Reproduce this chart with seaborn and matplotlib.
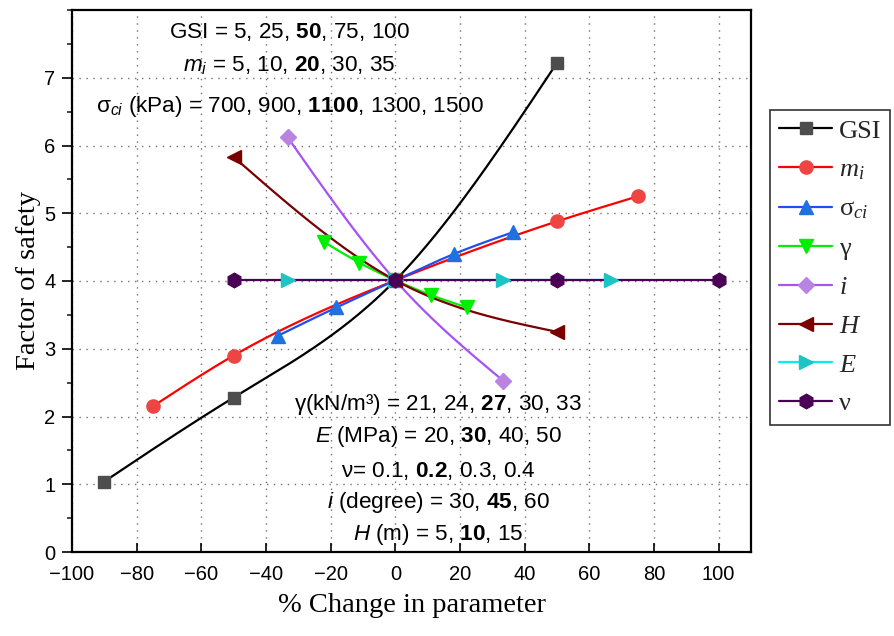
import numpy as np
import pandas as pd
import matplotlib
matplotlib.use("Agg")
import matplotlib.pyplot as plt
import seaborn as sns
from matplotlib.lines import Line2D
from matplotlib.ticker import MultipleLocator

# ---------------- data (percent change vs factor of safety) ----------------
pct_gsi = [-90, -50, 0, 50]
fos_gsi = [1.04, 2.28, 4.01, 7.22]
pct_mi = [-75, -50, 0, 50, 75]
fos_mi = [2.15, 2.90, 4.01, 4.88, 5.25]
pct_sci = [-36.4, -18.2, 0, 18.2, 36.4]
fos_sci = [3.19, 3.61, 4.01, 4.40, 4.72]
pct_gamma = [-22.2, -11.1, 0, 11.1, 22.2]
fos_gamma = [4.58, 4.27, 4.01, 3.79, 3.61]
pct_i = [-33.3, 0, 33.3]
fos_i = [6.12, 4.01, 2.53]
pct_H = [-50, 0, 50]
fos_H = [5.83, 4.01, 3.25]
pct_E = [-33.3, 0, 33.3, 66.7]
fos_E = [4.01, 4.01, 4.01, 4.01]
pct_nu = [-50, 0, 50, 100]
fos_nu = [4.01, 4.01, 4.01, 4.01]

legend_labels = ["GSI", r"$m_i$", r"σ${}_{ci}$", "γ", r"$i$", r"$H$", r"$E$", "ν"]
x_ticks = [-100, -80, -60, -40, -20, 0, 20, 40, 60, 80, 100]
y_ticks = [0, 1, 2, 3, 4, 5, 6, 7]

# ---------------- style ----------------
sns.set_theme(style="ticks")
plt.rcParams["font.family"] = ["Liberation Sans", "DejaVu Sans"]
plt.rcParams["mathtext.fontset"] = "custom"
plt.rcParams["mathtext.rm"] = "Liberation Serif"
plt.rcParams["mathtext.it"] = "Liberation Serif:italic"
plt.rcParams["mathtext.bf"] = "Liberation Sans:bold"
plt.rcParams["mathtext.cal"] = "Liberation Sans:italic"
plt.rcParams["mathtext.sf"] = "Liberation Sans"


def natural_spline(x, y, n=200):
    x = np.asarray(x, float)
    y = np.asarray(y, float)
    k = len(x)
    if k < 3:
        return x, y
    h = np.diff(x)
    A = np.zeros((k, k))
    b = np.zeros(k)
    A[0, 0] = 1
    A[-1, -1] = 1
    for j in range(1, k - 1):
        A[j, j - 1] = h[j - 1]
        A[j, j] = 2 * (h[j - 1] + h[j])
        A[j, j + 1] = h[j]
        b[j] = 3 * ((y[j + 1] - y[j]) / h[j] - (y[j] - y[j - 1]) / h[j - 1])
    c = np.linalg.solve(A, b)
    xs = np.linspace(x[0], x[-1], n)
    idx = np.clip(np.searchsorted(x, xs) - 1, 0, k - 2)
    dx = xs - x[idx]
    bc = (y[1:] - y[:-1]) / h - h * (2 * c[:-1] + c[1:]) / 3
    d = (c[1:] - c[:-1]) / (3 * h)
    ys = y[idx] + bc[idx] * dx + c[idx] * dx ** 2 + d[idx] * dx ** 3
    return xs, ys


series = [
    (pct_gsi, fos_gsi, "#000000", "#4d4d4d", "s", 8.5),
    (pct_mi, fos_mi, "#ff0000", "#ee4444", "o", 9.5),
    (pct_sci, fos_sci, "#1f4ff0", "#1f70e0", "^", 10.5),
    (pct_gamma, fos_gamma, "#00ee00", "#00ee00", "v", 10.5),
    (pct_i, fos_i, "#a652f5", "#b884e0", "D", 8.5),
    (pct_H, fos_H, "#7a0000", "#7a0000", "<", 10.5),
    (pct_E, fos_E, "#00f0f0", "#1cc4c4", ">", 10.5),
    (pct_nu, fos_nu, "#4a0055", "#4a0055", "h", 10.5),
]

fig = plt.figure(figsize=(8.94, 6.36), dpi=100)
ax = fig.add_axes([72 / 894, 1 - 552 / 636, (751 - 72) / 894, (552 - 10) / 636])

handles = []
for (xv, yv, lc, mc, mk, ms), lab in zip(series, legend_labels):
    xs, ys = natural_spline(xv, yv)
    sns.lineplot(x=xs, y=ys, ax=ax, color=lc, linewidth=1.6, sort=False,
                 estimator=None, legend=False)
    pts = pd.DataFrame({"pct": xv, "fos": yv})
    ax.plot(pts["pct"], pts["fos"], linestyle="none", marker=mk, markersize=ms,
            markerfacecolor=mc, markeredgecolor=mc, zorder=3)
    handles.append(Line2D([0], [0], color=lc, linewidth=1.6, marker=mk,
                          markersize=ms, markerfacecolor=mc, markeredgecolor=mc,
                          label=lab))

ax.set_xlim(-100, 110)
ax.set_ylim(0, 8)
ax.set_xticks(x_ticks)
ax.set_xticklabels([str(t) if t >= 0 else "\u2212" + str(-t) for t in x_ticks])
ax.set_yticks(y_ticks)
ax.yaxis.set_minor_locator(MultipleLocator(0.5))
ax.tick_params(axis="x", direction="in", length=6.5, width=1.2, pad=9.5,
               labelsize=14.5, colors="black")
ax.tick_params(axis="y", which="major", direction="out", length=7, width=1.2,
               pad=5, labelsize=14.5, colors="black")
ax.tick_params(axis="y", which="minor", direction="out", length=3.5, width=1.2)
ax.grid(True, which="major", linestyle=(0, (1, 4)), color="#707070",
        linewidth=1.0)
for sp in ax.spines.values():
    sp.set_visible(True)
    sp.set_linewidth(1.6)
    sp.set_color("black")

ax.set_xlabel("% Change in parameter", fontfamily="Liberation Serif",
              fontsize=20.5, labelpad=6, color="black")
ax.set_ylabel("Factor of safety", fontfamily="Liberation Serif",
              fontsize=20.5, labelpad=2, color="black")

# ---------------- annotations ----------------
top_texts = [
    (7.585, r"GSI = 5, 25, $\mathbf{50}$, 75, 100"),
    (7.10, r"$\mathcal{m}_{\mathcal{i}}$ = 5, 10, $\mathbf{20}$, 30, 35"),
    (6.49, r"σ${}_{\mathcal{ci}}$ (kPa) = 700, 900, $\mathbf{1100}$, 1300, 1500"),
]
for yv, s in top_texts:
    ax.text(-32.7, yv, s, ha="center", va="baseline", fontsize=16.2,
            color="black")

bottom_texts = [
    (2.09, r"γ(kN/m³) = 21, 24, $\mathbf{27}$, 30, 33"),
    (1.625, r"$\mathcal{E}$ (MPa) = 20, $\mathbf{30}$, 40, 50"),
    (1.11, r"ν= 0.1, $\mathbf{0.2}$, 0.3, 0.4"),
    (0.644, r"$\mathcal{i}$ (degree) = 30, $\mathbf{45}$, 60"),
    (0.177, r"$\mathcal{H}$ (m) = 5, $\mathbf{10}$, 15"),
]
for yv, s in bottom_texts:
    ax.text(13.3, yv, s, ha="center", va="baseline", fontsize=16.2,
            color="black")

leg = fig.legend(handles=handles, loc="upper left",
                 bbox_to_anchor=(770 / 894, 1 - 110 / 636),
                 prop={"family": "Liberation Serif", "size": 19},
                 handlelength=2.0, handletextpad=0.25, labelspacing=0.58,
                 borderpad=0.35, borderaxespad=0, frameon=True, fancybox=False)
leg.get_frame().set_edgecolor("black")
leg.get_frame().set_linewidth(1.2)

fig.savefig("out.png", dpi=100, facecolor="white")
